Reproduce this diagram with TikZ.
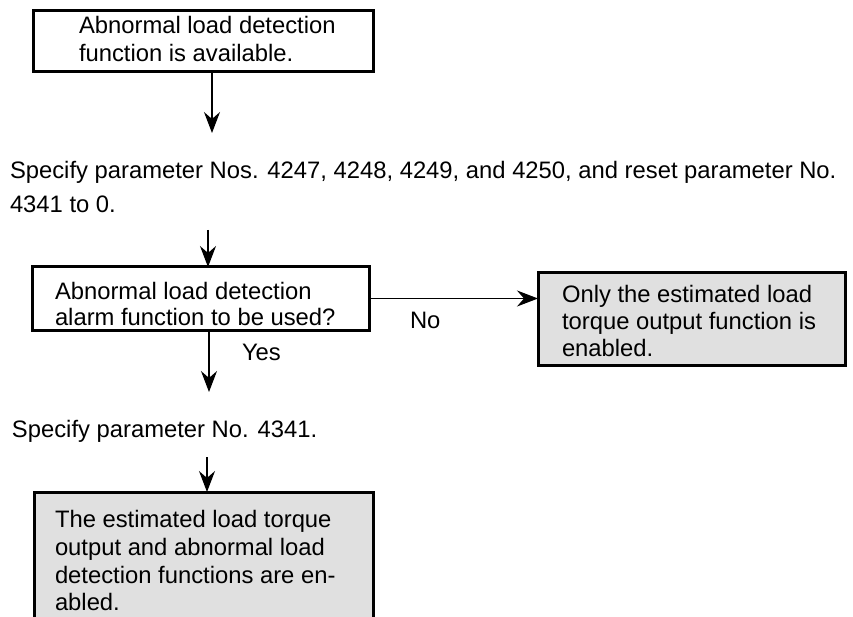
\documentclass[tikz,border=0pt]{standalone}
\usepackage{fontspec}
\setmainfont{Liberation Sans}
\usetikzlibrary{arrows.meta}
\definecolor{boxgray}{RGB}{224,224,224}
\begin{document}
\begin{tikzpicture}[x=1pt,y=-1pt,
  every node/.style={font=\fontsize{23.8}{28}\selectfont, inner sep=0pt, outer sep=0pt},
  box/.style={draw=black, line width=3pt, anchor=north west, inner sep=0pt},
  whitebox/.style={box, fill=white},
  graybox/.style={box, fill=boxgray},
  txt/.style={anchor=base west},
  arr/.style={line width=1.1pt, -{Stealth[length=21pt,width=16pt,inset=7pt]}}]
\useasboundingbox (0,0) rectangle (853,617);
\clip (0,0) rectangle (853,617);
\fill[white] (0,0) rectangle (853,617);

% top box
\node[whitebox, minimum width=340pt, minimum height=61pt] (b1) at (33,11) {};
\node[txt] (t1a) at (79,34) {Abnormal load detection};
\node[txt] (t1b) at (79,62) {function is available.};
\coordinate (e1) at (212,133);
\draw[arr] (b1.south -| e1) -- (e1);

% paragraph
\node[txt] (p1a) at (10,179) {Specify parameter Nos. 4247, 4248, 4249, and 4250, and reset parameter No.};
\node[txt] (p1b) at (10,213) {4341 to 0.};

% decision box
\node[whitebox, minimum width=337pt, minimum height=63pt] (b2) at (32,267) {};
\coordinate (s2) at (208,230);
\draw[arr] (s2) -- (s2 |- b2.north);
\node[txt] (t2a) at (55,299) {Abnormal load detection};
\node[txt] (t2b) at (55,325) {alarm function to be used?};

% right box
\node[graybox, minimum width=307pt, minimum height=92pt] (b3) at (538,273) {};
\node[txt] (t3a) at (562,302) {Only the estimated load};
\node[txt] (t3b) at (562,329) {torque output function is};
\node[txt] (t3c) at (562,356) {enabled.};
\draw[arr] (b2.east) -- (b2.east -| b3.west);
\node[txt] (no) at (410,328) {No};

% yes branch
\coordinate (e3) at (209,392);
\draw[arr] (b2.south -| e3) -- (e3);
\node[txt] (yes) at (242,360) {Yes};

\node[txt] (p2) at (12,437) {Specify parameter No. 4341.};

% bottom box
\node[graybox, minimum width=339pt, minimum height=160pt] (b4) at (34,492) {};
\coordinate (s4) at (207,457);
\draw[arr] (s4) -- (s4 |- b4.north);
\node[txt] (t4a) at (55,527) {The estimated load torque};
\node[txt] (t4b) at (55,555) {output and abnormal load};
\node[txt] (t4c) at (55,583) {detection functions are en-};
\node[txt] (t4d) at (55,610) {abled.};
\end{tikzpicture}
\end{document}
